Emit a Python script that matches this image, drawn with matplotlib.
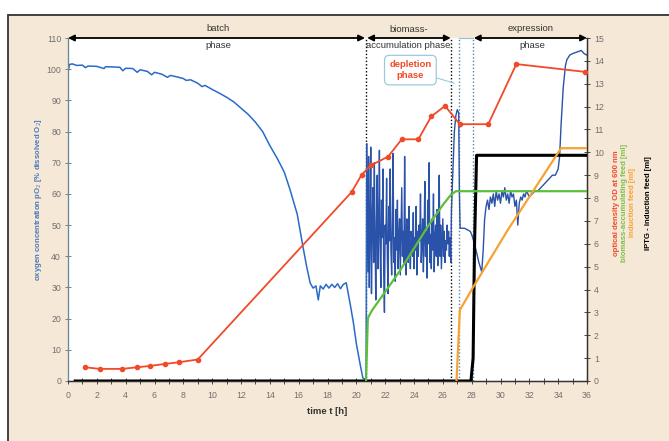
import numpy as np
import matplotlib
matplotlib.use("Agg")
import matplotlib.pyplot as plt
from matplotlib.patches import Rectangle

plt.rcParams['font.family'] = ['Liberation Sans', 'DejaVu Sans']

# ---- data ----
# oxygen pO2, left axis [%]
t_batch = [0.0, 0.1, 0.3, 0.6, 1.0, 1.2, 1.4, 2.0, 2.5, 2.6, 3.2, 3.6, 3.8, 4.0, 4.5, 4.8,
           5.0, 5.5, 5.8, 6.0, 6.5, 6.9, 7.1, 7.5, 8.0, 8.2, 8.5, 9.0, 9.3, 9.5, 10.0, 10.5,
           11.0, 11.5, 12.0, 12.5, 13.0, 13.5, 14.0, 14.5, 15.0, 15.4, 15.9, 16.3, 16.55,
           16.8, 17.0, 17.2, 17.36, 17.5, 17.7, 17.9, 18.1, 18.3, 18.5, 18.7, 18.9, 19.1,
           19.3, 19.4, 19.6, 19.8, 20.0, 20.25, 20.45, 20.6, 20.68, 20.72]
po2_batch = [99, 101.5, 101.7, 101.2, 101.3, 100.5, 101, 100.9, 100.2, 100.8, 100.7, 100.6,
             99.5, 100.3, 100.2, 99, 99.8, 99.3, 98.2, 99, 98.4, 97.4, 98, 97.6, 97, 96.4,
             96.6, 95.5, 94.4, 94.8, 93.5, 92.3, 91, 89.5, 87.5, 85.5, 83, 80, 75.5, 71.5,
             67, 61.4, 53.5, 43, 36.8, 31.4, 29.8, 30.5, 26, 30.5, 29.5, 31, 29.8, 31, 30,
             31.2, 29.6, 31, 31.5, 29, 24, 18.6, 12, 5.7, 1, 0.5, 0, 76]

# biomass-accumulation phase, every 0.05 h from 20.75 h to 26.50 h
t_accum = [20.75, 20.8, 20.85, 20.9, 20.95, 21.0, 21.05, 21.1, 21.15, 21.2, 21.25, 21.3,
           21.35, 21.4, 21.45, 21.5, 21.55, 21.6, 21.65, 21.7, 21.75, 21.8, 21.85, 21.9,
           21.95, 22.0, 22.05, 22.1, 22.15, 22.2, 22.25, 22.3, 22.35, 22.4, 22.45, 22.5,
           22.55, 22.6, 22.65, 22.7, 22.75, 22.8, 22.85, 22.9, 22.95, 23.0, 23.05, 23.1,
           23.15, 23.2, 23.25, 23.3, 23.35, 23.4, 23.45, 23.5, 23.55, 23.6, 23.65, 23.7,
           23.75, 23.8, 23.85, 23.9, 23.95, 24.0, 24.05, 24.1, 24.15, 24.2, 24.25, 24.3,
           24.35, 24.4, 24.45, 24.5, 24.55, 24.6, 24.65, 24.7, 24.75, 24.8, 24.85, 24.9,
           24.95, 25.0, 25.05, 25.1, 25.15, 25.2, 25.25, 25.3, 25.35, 25.4, 25.45, 25.5,
           25.55, 25.6, 25.65, 25.7, 25.75, 25.8, 25.85, 25.9, 25.95, 26.0, 26.05, 26.1,
           26.15, 26.2, 26.25, 26.3, 26.35, 26.4, 26.45, 26.5]
po2_accum = [60, 35, 72, 30, 48, 75, 28, 50, 62, 38, 70, 45, 26, 52, 66, 36,
             48, 74, 42, 30, 58, 46, 68, 34, 22, 50, 44, 65, 40, 28, 56, 45,
             68, 42, 34, 50, 73, 38, 46, 32, 55, 42, 58, 36, 46, 52, 34, 47,
             62, 40, 48, 38, 72, 44, 34, 52, 46, 38, 56, 42, 36, 48, 45, 40,
             54, 36, 46, 42, 56, 34, 48, 40, 50, 45, 60, 38, 44, 52, 35, 46,
             64, 40, 48, 33, 58, 44, 70, 38, 47, 36, 52, 42, 60, 35, 45, 50,
             40, 55, 37, 46, 66, 40, 50, 36, 44, 52, 40, 48, 38, 45, 42, 50,
             44, 48, 40, 46]

t_expr = [26.55, 26.6, 26.7, 26.8, 26.9, 27.0, 27.1, 27.15, 27.2, 27.5, 27.9, 28.0, 28.2,
          28.5, 28.7, 28.8, 28.9, 29.0, 29.1, 29.2, 29.3, 29.4, 29.5, 29.6, 29.7, 29.8,
          29.9, 30.0, 30.1, 30.2, 30.3, 30.4, 30.5, 30.6, 30.7, 30.8, 30.9, 31.0, 31.1,
          31.2, 31.3, 31.4, 31.5, 31.6, 31.7, 31.8, 31.9, 32.0, 32.2, 32.4, 32.6, 32.8,
          33.0, 33.2, 33.4, 33.6, 33.8, 34.0, 34.1, 34.2, 34.35, 34.5, 34.6, 34.8, 35.0,
          35.3, 35.6, 35.8, 36.0]
po2_expr = [38, 55, 68, 80, 85, 87, 86, 60, 49, 49, 48, 47, 44, 38, 35, 42, 52, 56, 58,
            55, 59, 57, 60, 56, 61, 58, 60, 57, 61, 59, 62, 58, 60, 57, 61, 59, 60, 56, 58,
            50, 57, 59, 58, 60, 59, 61, 60, 59, 60, 61, 61, 62, 63, 64, 65, 66, 66, 68, 72,
            82, 94, 101, 103, 104.5, 105, 105.5, 106, 105, 104.5]

# optical density OD600, right axis
t_od = [1.2, 2.2, 3.75, 4.8, 5.7, 6.75, 7.7, 9.0, 19.67, 20.37, 21.0, 22.2, 23.15,
        24.3, 25.2, 26.15, 27.18, 29.15, 31.1, 35.85]
od = [0.6, 0.53, 0.53, 0.6, 0.66, 0.75, 0.82, 0.94, 8.26, 9.02, 9.43, 9.81, 10.57,
      10.57, 11.57, 12.03, 11.23, 11.23, 13.86, 13.52]

# biomass-accumulating feed [ml]
t_green = [20.67, 20.8, 21.1, 22.0, 23.0, 24.0, 25.0, 26.0, 26.5, 26.9, 36.0]
green = [0, 2.75, 3.1, 3.9, 4.8, 5.8, 6.8, 7.7, 8.1, 8.3, 8.3]

# induction feed [ml]
t_orange = [26.95, 27.18, 28.1, 30.5, 34.2, 36.0]
orange = [0, 3.1, 4.1, 6.6, 10.18, 10.18]

# IPTG - induction feed [ml]
t_iptg = [0.5, 27.95, 28.1, 28.2, 28.34, 36.0]
iptg = [0, 0, 1.0, 6.0, 9.87, 9.87]

# phase borders [h]
t_phase = [20.67, 26.6, 27.13, 28.1]

xticks = list(range(0, 37, 2))
yticks_left = list(range(0, 111, 10))
yticks_right = list(range(0, 16))

BLUE = '#2a52a8'
RED = '#f04a2a'
GREEN = '#5cbf3a'
ORANGE = '#f7a232'
TXT = '#333333'
TICK = '#707070'

fig = plt.figure(figsize=(6.69, 4.41), dpi=100)
fig.patch.set_facecolor('white')
fig.patches.append(Rectangle((8 / 669, -0.05), 1.1, 1 - 15 / 441 + 0.05,
                             transform=fig.transFigure, facecolor='#f6e8d6',
                             edgecolor='#333333', lw=1.3, zorder=-5))

ax = fig.add_axes([68 / 669, 1 - 381 / 441, (587 - 68) / 669, (381 - 38) / 441])
ax.set_facecolor('white')
ax2 = ax.twinx()

# oxygen
ax.plot(t_batch, po2_batch, color='#2a6ac8', lw=1.1, zorder=3)
ax.plot([t_batch[-1]] + t_accum + t_expr, [po2_batch[-1]] + po2_accum + po2_expr,
        color=BLUE, lw=1.0, zorder=3)

# right-axis series
ax2.plot(t_iptg, iptg, color='black', lw=2.2, zorder=4)
ax2.plot(t_green, green, color=GREEN, lw=1.6, zorder=5)
ax2.plot(t_orange, orange, color=ORANGE, lw=1.6, zorder=5)
ax2.plot(t_od, od, color=RED, lw=1.3, marker='o', ms=3, zorder=6)

ax.set_xlim(0, 36)
ax.set_ylim(0, 110)
ax2.set_ylim(0, 15)

# phase borders
for i, tp in enumerate(t_phase):
    c = 'black' if i < 2 else '#4f86b0'
    ax.plot([tp, tp], [0, 110], ls=(0, (1, 1.5)), color=c, lw=1.0, zorder=2, clip_on=False)

# phase arrows on top
for (a, b) in [(0, 20.6), (20.75, 26.55), (28.15, 36)]:
    ax.annotate('', xy=(a, 110), xytext=(b, 110), annotation_clip=False,
                arrowprops=dict(arrowstyle='<|-|>', color='black', lw=1.3,
                                mutation_scale=9, shrinkA=0, shrinkB=0))
ax.plot([27.13, 28.1], [110, 110], color='#8cc4dc', lw=0.8, clip_on=False)

fs = 6.8
ax.text(10.4, 113, 'batch', ha='center', va='center', fontsize=fs, color=TXT)
ax.text(10.4, 107.5, 'phase', ha='center', va='center', fontsize=fs, color=TXT)
ax.text(23.6, 112.8, 'biomass-', ha='center', va='center', fontsize=fs, color=TXT)
ax.text(23.6, 107.5, 'accumulation phase', ha='center', va='center', fontsize=fs, color=TXT)
ax.text(32.1, 113, 'expression', ha='center', va='center', fontsize=fs, color=TXT)
ax.text(32.2, 107.5, 'phase', ha='center', va='center', fontsize=fs, color=TXT)

ax.annotate('depletion\nphase', xy=(26.8, 95.5), xytext=(23.75, 99.7),
            ha='center', va='center', fontsize=6.8, color=RED, fontweight='bold',
            linespacing=1.3,
            bbox=dict(boxstyle='round,pad=0.5', fc='white', ec='#9ccbdc', lw=0.9),
            arrowprops=dict(arrowstyle='-', color='#9ccbdc', lw=0.8, shrinkA=0, shrinkB=0),
            zorder=7)

# axes styling
ax.set_xticks(xticks)
ax.set_xticks(range(0, 37), minor=True)
ax.set_yticks(yticks_left)
ax2.set_yticks(yticks_right)
ax.tick_params(axis='x', which='both', direction='inout', length=4, width=0.7,
               labelsize=6.3, labelcolor=TICK, color='#444444', pad=5)
ax.tick_params(axis='y', direction='inout', length=4, width=0.7, labelsize=6.3,
               labelcolor=TICK, color='#6a8a96', pad=3)
ax2.tick_params(axis='y', direction='inout', length=4, width=0.7, labelsize=6.3,
                labelcolor=TICK, color='#444444', pad=3)
for a in (ax, ax2):
    a.spines['top'].set_visible(False)
ax2.spines['left'].set_color('#6a8a96')
ax2.spines['left'].set_linewidth(0.8)
ax2.spines['right'].set_color('#333333')
ax2.spines['right'].set_linewidth(1.0)
ax2.spines['bottom'].set_color('#333333')
ax2.spines['bottom'].set_linewidth(1.0)

ax.set_xlabel('time t [h]', fontsize=6.8, fontweight='bold', color=TXT, labelpad=5)

fig.text(39 / 669, 1 - 200 / 441, 'oxygen concentration pO$_2$ [% dissolved O$_2$]',
         rotation=90, ha='center', va='center', fontsize=5.6, fontweight='bold',
         color='#4a78c0')
rlab = [('optical density OD at 600 nm', RED, 617),
        ('biomass-accumulating feed [ml]', '#7cc04a', 625),
        ('induction feed [ml]', ORANGE, 632),
        ('IPTG - induction feed [ml]', 'black', 648)]
for s, c, xp in rlab:
    fig.text(xp / 669, 1 - 203 / 441, s, rotation=90, ha='center', va='center',
             fontsize=5.6, fontweight='bold', color=c)

fig.savefig('out.png', dpi=100)
